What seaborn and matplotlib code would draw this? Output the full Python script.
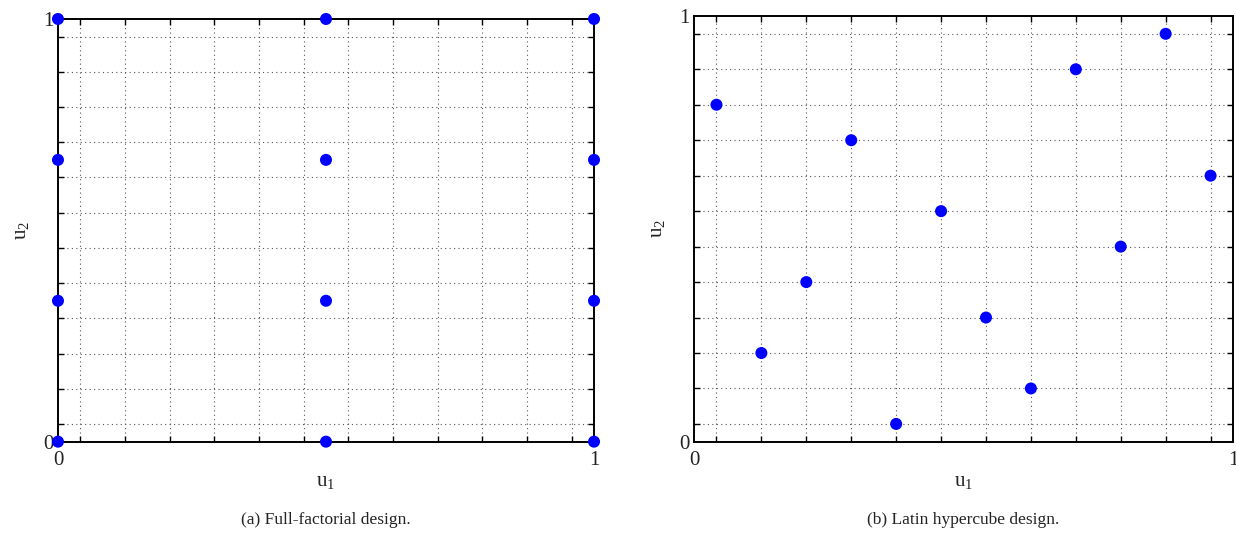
import numpy as np
import pandas as pd
import seaborn as sns
import matplotlib.pyplot as plt
from matplotlib.ticker import FixedLocator

sns.set_style('ticks')
plt.rcParams['font.family'] = ['Liberation Serif', 'DejaVu Serif']
plt.rcParams['mathtext.fontset'] = 'custom'
plt.rcParams['mathtext.rm'] = 'Liberation Serif'
plt.rcParams['font.size'] = 12

# (a) full-factorial design, 3 levels in u1 x 4 levels in u2
ff_u1 = [0, 0, 0, 0, 0.5, 0.5, 0.5, 0.5, 1, 1, 1, 1]
ff_u2 = [0, 1/3, 2/3, 1, 0, 1/3, 2/3, 1, 0, 1/3, 2/3, 1]

# (b) latin hypercube design, 12 samples at cell centres
lhs_u1 = [1/24, 3/24, 5/24, 7/24, 9/24, 11/24, 13/24, 15/24, 17/24, 19/24, 21/24, 23/24]
lhs_u2 = [19/24, 5/24, 9/24, 17/24, 1/24, 13/24, 7/24, 3/24, 21/24, 11/24, 23/24, 15/24]

grid_pos = [(2 * k + 1) / 24 for k in range(12)]
captions = ['(a) Full-factorial design.', '(b) Latin hypercube design.']


def style_axes(ax, caption):
    ax.set_xlim(0, 1)
    ax.set_ylim(0, 1)
    ax.set_xticks([0, 1])
    ax.set_yticks([0, 1])
    ax.set_xticklabels(['0', '1'])
    ax.set_yticklabels(['0', '1'])
    ax.xaxis.set_minor_locator(FixedLocator(grid_pos))
    ax.yaxis.set_minor_locator(FixedLocator(grid_pos))
    ax.tick_params(which='major', length=0, labelsize=15, colors='#222222')
    ax.tick_params(axis='x', which='major', pad=7)
    ax.tick_params(axis='y', which='major', pad=3)
    ax.tick_params(which='minor', direction='in', length=4, width=1,
                   top=True, right=True, color='k')
    ax.grid(which='minor', linestyle=(0, (1, 3)), color='#555555', lw=0.8)
    ax.grid(which='major', visible=False)
    for sp in ax.spines.values():
        sp.set_visible(True)
        sp.set_linewidth(1.4)
        sp.set_color('k')
    ax.text(0.5, -0.185, caption, transform=ax.transAxes, ha='center',
            va='center', fontsize=12.5, color='#222222')


fig = plt.figure(figsize=(12.36, 5.36), dpi=100)
ax1 = fig.add_axes([0.0469, 0.176, 0.4337, 0.7886])
ax2 = fig.add_axes([0.5615, 0.176, 0.4361, 0.794])

df_ff = pd.DataFrame({'u1': ff_u1, 'u2': ff_u2})
df_lhs = pd.DataFrame({'u1': lhs_u1, 'u2': lhs_u2})

for ax, df, cap in [(ax1, df_ff, captions[0]), (ax2, df_lhs, captions[1])]:
    sns.scatterplot(data=df, x='u1', y='u2', ax=ax, color='#0000ff', s=75,
                    edgecolor='none', clip_on=False, zorder=5)
    style_axes(ax, cap)
    ax.set_xlabel(r'$\mathrm{u}_{\mathrm{1}}$', fontsize=15, labelpad=2,
                  color='#222222')
    ax.set_ylabel(r'$\mathrm{u}_{\mathrm{2}}$', fontsize=15, labelpad=8,
                  color='#222222')

fig.savefig('out.png', dpi=100)
